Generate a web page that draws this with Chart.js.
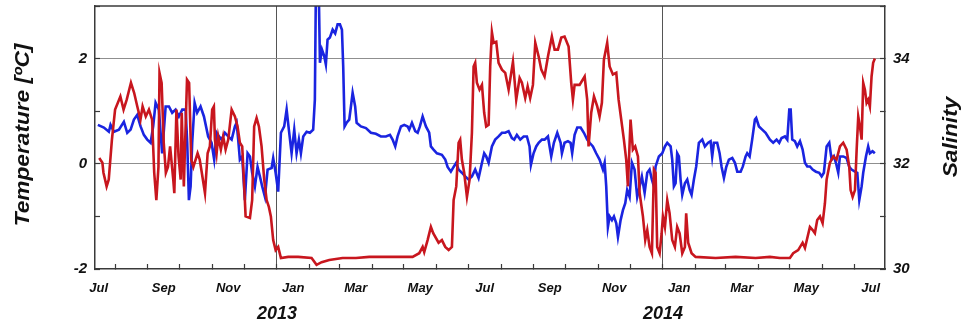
<!DOCTYPE html>
<html>
<head>
<meta charset="utf-8">
<title>Temperature and salinity 2012-2014</title>
<script src="https://cdn.jsdelivr.net/npm/chart.js@4"></script>
<style>
  html, body { margin: 0; padding: 0; background: #ffffff; }
  canvas { display: block; }
</style>
</head>
<body>
<canvas id="chart" width="965" height="326"></canvas>
<script>
// Days are counted from 1 January 2013 (negative = 2012).
const tempDays = [
  -168, -165, -164, -161, -159, -156, -153, -148, -145, -142, -138, -135, -132, -129, -127, -124,
  -121, -118, -116, -114, -112, -111, -109, -107, -105, -103, -101, -98, -97, -95, -93, -91,
  -90, -88, -85, -83, -81, -79, -75, -73, -71, -68, -65.5, -63.4, -61.2, -59.6,
  -58.6, -57, -55.5, -53, -50.8, -48.5, -46, -42.8, -39.7, -37.2, -35, -32.8, -30.9, -29.6, -25.5, -23.4,
  -21.5, -19.2, -17, -14.5, -12, -9.7, -7.6, -5.7, -3.5, -1.2, 1.2, 3.8, 10.7, 20.1, 32.8, 37.5,
  42.3, 49.5, 62.1, 74.7, 87.3, 99.9, 112.5, 128.3, 134.6, 137.8, 139.3, 142.5, 145.6, 147.8, 152.9, 156,
  159.2, 162.4, 165.5, 167.1, 169.6, 171.8, 173.3, 174.9, 177.1, 179.7, 182.2, 184.4, 186, 187.5, 189.1, 191.6,
  193.9, 196, 197.9, 200.2, 201.7, 203.3, 204.9, 207.4, 209.6, 212.8, 215.9, 219.1, 223.2, 226.3, 229.5, 231.7,
  234.8, 237.1, 239.5, 242.1, 244.3, 247.5, 250, 253.1, 256.3, 260, 262.6, 265.7, 268.9, 272, 275.8, 278.3,
  279.9, 281.5, 286.2, 291, 293.4, 294.7, 297.2, 299.8, 302.9, 305.1, 307.3, 309.2, 312.3, 314.6, 317.7, 320.9,
  323.1, 325.6, 328.1, 330.3, 331.9, 334.4, 336.6, 338.8, 341.4, 343, 346.1, 348.3, 350.2, 352.4, 354.6, 356.5,
  358.1, 359.6, 361.9, 363.8, 365, 366.9, 369.1, 371.3, 373.8, 376.3, 378.5, 380.8, 383.3, 385.8, 387, 388.9,
  392.1, 395.9, 414.8, 433.7, 452.7, 466.2, 475.6, 485.1, 488.2, 492.9, 497.1, 499.3, 504, 506.6, 508.7, 510.9,
  513.5, 516, 518.2, 519.8, 522.9, 526.1, 529.2, 532.4, 535.5, 538.7, 541.2, 542.5, 544.4, 546.6, 548.2, 549.7,
  551.3, 552.9, 554.4, 556, 557.6, 559.1, 560.7, 562.3, 563.8, 565.4
];
const tempC = [
  0.11, 0.02, -0.17, -0.43, -0.30, 0.46, 1.03, 1.28, 1.03, 1.22, 1.54, 1.35, 1.09, 0.84, 1.09, 0.90,
  1.03, 0.84, -0.17, -0.69, -0.06, 1.73, 1.54, 0.40, -0.17, -0.06, 0.33, -0.30, -0.56, 1.03, 0.14, -0.30,
  0.97, -0.43, 1.60, 1.54, 0.08, -0.06, 0.20, 0.08, -0.17, -0.56, 0.20, 0.33, 1.03, 1.09,
  0.46, 0.20, 0.52, 0.27, 0.52, 0.27, 0.46, 1.03, 0.90, 0.71, 0.40, 0.33, -0.43, -1.00, -1.03, -0.69,
  0.71, 0.87, 0.71, 0.33, -0.30, -0.69, -0.82, -1.00, -1.45, -1.64, -1.58, -1.79, -1.77, -1.77, -1.79, -1.92,
  -1.87, -1.83, -1.79, -1.79, -1.77, -1.77, -1.77, -1.77, -1.70, -1.58, -1.68, -1.45, -1.20, -1.32, -1.50, -1.45,
  -1.58, -1.64, -1.58, -0.69, -0.43, 0.40, 0.46, 0.08, -0.17, -0.63, -0.30, 0.59, 1.85, 1.92, 1.54, 1.41,
  1.50, 0.97, 0.71, 0.74, 1.85, 2.50, 2.30, 2.32, 1.92, 1.79, 1.73, 1.41, 1.94, 1.22, 1.63, 1.54,
  1.25, 1.47, 1.25, 1.50, 2.30, 2.04, 1.79, 1.66, 2.04, 2.42, 2.17, 2.17, 2.40, 2.42, 2.23, 1.54,
  1.22, 1.50, 1.50, 1.66, 1.22, 0.33, 0.97, 1.28, 1.09, 0.90, 1.16, 1.98, 2.30, 1.85, 1.70, 1.73,
  1.22, 0.84, 0.46, 0.08, -0.43, 0.84, 0.27, 0.33, 0.14, -0.56, -1.00, -1.45, -1.26, -1.58, -1.70, -0.11,
  -0.17, -1.58, -1.70, -1.32, -1.00, -1.20, -0.69, -0.94, -1.45, -1.58, -1.20, -1.32, -1.70, -1.58, -0.94, -1.50,
  -1.70, -1.77, -1.79, -1.77, -1.79, -1.77, -1.79, -1.79, -1.70, -1.64, -1.50, -1.60, -1.20, -1.26, -1.32, -1.07,
  -1.00, -1.13, -0.75, -0.30, 0.02, 0.14, 0.08, 0.33, 0.40, 0.27, -0.06, -0.50, -0.63, -0.50, 0.27, 0.90,
  0.71, 0.46, 1.54, 1.41, 1.16, 1.22, 1.09, 1.66, 1.92, 2.00
];

const salDays = [
  -169.3, -163.6, -158.9, -157.3, -154.1, -149.4, -144.7, -141.5, -138.3, -135.2, -132.1, -128.9, -125.8, -122.6, -119.4, -117,
  -114.7, -111.6, -108.5, -105.2, -102.1, -99, -95.8, -92.7, -89.5, -86.3, -84.8, -83.2, -81.6, -80.1, -77.8, -75.4,
  -72.2, -69, -65, -61.8, -59.3, -57, -54.8, -52.3, -49.2, -46, -42.8, -39.7, -38.1, -36.6, -35, -32.8,
  -30.3, -27.7, -25.5, -23.4, -20.8, -18.3, -16.1, -13.9, -11.3, -8.8, -5, -3.5, -1.2, 1.2, 3.8, 6.9,
  9.2, 11.3, 13.9, 16.4, 18.6, 20.8, 22.7, 24.9, 28.1, 31.2, 34.3, 35.9, 36.9, 39.5, 40.7, 42.6,
  44.7, 46.3, 47.9, 50.1, 52.7, 55.1, 57.4, 59.6, 61.5, 62.7, 64, 65.9, 68.4, 70, 71.6, 74,
  75.4, 79.4, 84.2, 88.9, 93.6, 98.3, 103.1, 106.9, 109.4, 111.9, 114.1, 117.3, 120.4, 123.6, 125.1, 127.7,
  130.8, 133.1, 135.2, 137.8, 140.9, 144, 145.6, 148.1, 151.3, 156, 159.2, 161.4, 164.5, 167.1, 169.6, 171.8,
  174.9, 178.1, 181.2, 184.4, 187.5, 190.7, 193.9, 196, 197.9, 200.2, 203.3, 206.4, 209.6, 212.8, 215.9, 219.1,
  222.2, 224.4, 226.9, 230.1, 233.3, 236.4, 238.9, 240.2, 242.7, 245.2, 247.5, 250.6, 253.1, 256.3, 259.4, 261.9,
  265.1, 268.3, 269.5, 272, 275.2, 277.7, 279.2, 281.5, 284, 287.2, 290.3, 293.4, 295.7, 298.8, 301.9, 305.1,
  308.3, 309.9, 311.4, 313, 314.6, 316.8, 318.7, 320.9, 322.5, 325, 327.2, 329.4, 331.2, 333.5, 335.7, 338.2,
  340.7, 343, 345.1, 347.7, 350.2, 352.4, 354.6, 356.5, 358.1, 361.2, 364.4, 366.9, 369.1, 372.3, 373.8, 375.4,
  377, 378.5, 380.1, 381.7, 383.3, 385.8, 388, 390.3, 392.1, 394.3, 396.5, 399, 402.2, 404.7, 407.8, 410.1,
  411.6, 413.2, 416.3, 418.6, 420.5, 422.7, 424.9, 427.4, 430.6, 433.1, 435.3, 438.5, 440.6, 443.2, 444.7, 447,
  449.4, 452, 453.2, 455.8, 458.9, 462.1, 466.2, 469.3, 472.5, 475, 477.2, 480.4, 482.6, 484.5, 485.8, 487.3,
  489.8, 492, 494.6, 497.1, 499.3, 501.5, 504, 506.6, 509.7, 512.8, 515.1, 517.2, 519.8, 522.3, 524.5, 526.7,
  528.6, 530.8, 532.4, 535.5, 538.7, 541.2, 543.4, 546.6, 548.8, 550.7, 552.9, 554.4, 557, 559.1, 560.7, 563.2,
  565.4
];
const salinity = [
  32.74, 32.69, 32.61, 32.74, 32.61, 32.65, 32.80, 32.59, 32.65, 32.84, 32.93, 32.71, 32.55, 32.46, 32.40, 32.71,
  33.16, 33.03, 32.20, 33.09, 33.09, 32.97, 33.03, 32.90, 33.03, 33.03, 32.40, 31.31, 31.57, 32.40, 33.16, 32.97,
  33.09, 32.90, 32.52, 32.40, 32.08, 32.59, 32.52, 32.46, 32.59, 32.52, 32.46, 32.71, 32.78, 32.46, 32.08, 32.14,
  31.31, 32.20, 32.14, 31.83, 31.57, 31.94, 31.76, 31.57, 31.37, 31.89, 31.92, 32.11, 31.83, 31.47, 32.59, 32.71,
  33.03, 32.65, 32.20, 32.65, 32.20, 32.46, 32.20, 32.52, 32.61, 32.59, 32.65, 33.22, 35.40, 35.40, 33.92, 34.17,
  34.05, 33.89, 34.36, 34.40, 34.55, 34.48, 34.65, 34.65, 34.55, 33.85, 32.71, 32.78, 32.84, 33.09, 33.35, 33.09,
  32.78, 32.71, 32.68, 32.59, 32.57, 32.52, 32.52, 32.55, 32.46, 32.33, 32.52, 32.71, 32.74, 32.71, 32.65, 32.78,
  32.62, 32.59, 32.71, 32.90, 32.71, 32.59, 32.33, 32.27, 32.20, 32.17, 32.08, 31.94, 31.85, 31.94, 32.02, 31.89,
  31.83, 31.76, 31.70, 31.76, 31.89, 31.73, 32.02, 32.20, 32.14, 32.02, 32.33, 32.46, 32.52, 32.59, 32.59, 32.62,
  32.49, 32.46, 32.55, 32.46, 32.52, 32.52, 32.33, 31.98, 32.20, 32.33, 32.40, 32.46, 32.46, 32.52, 32.14, 32.40,
  32.59, 32.40, 32.20, 32.40, 32.43, 32.40, 32.20, 32.55, 32.69, 32.69, 32.59, 32.46, 32.40, 32.33, 32.20, 32.08,
  31.89, 32.02, 31.57, 30.80, 31.00, 30.93, 31.00, 30.87, 30.61, 30.93, 31.12, 31.25, 31.50, 31.37, 32.02, 31.89,
  31.37, 31.57, 31.76, 31.45, 31.83, 31.89, 31.70, 31.57, 31.95, 32.14, 32.20, 32.33, 32.40, 32.33, 32.08, 31.57,
  31.63, 32.20, 32.14, 31.70, 31.41, 31.63, 31.70, 31.50, 31.41, 31.70, 31.95, 32.40, 32.46, 32.33, 32.40, 32.43,
  32.14, 32.40, 32.40, 32.20, 31.94, 31.73, 31.94, 32.08, 32.11, 32.02, 31.85, 31.85, 31.95, 32.14, 32.20, 32.14,
  32.46, 32.84, 32.87, 32.71, 32.65, 32.59, 32.46, 32.40, 32.46, 32.40, 32.49, 32.52, 32.46, 33.03, 33.03, 32.46,
  32.43, 32.33, 32.43, 32.27, 32.02, 31.95, 31.95, 31.89, 31.85, 31.83, 31.76, 31.83, 32.33, 32.40, 32.08, 32.14,
  32.02, 31.83, 32.14, 32.14, 32.11, 31.94, 31.89, 31.85, 31.83, 31.31, 31.57, 31.83, 32.14, 32.33, 32.20, 32.24,
  32.20
];

// Axis labelling
const monthNames = ['Jan', 'Feb', 'Mar', 'Apr', 'May', 'Jun', 'Jul', 'Aug', 'Sep', 'Oct', 'Nov', 'Dec'];
const labelledMonths = [6, 8, 10, 0, 2, 4];          // Jul, Sep, Nov, Jan, Mar, May
const yearLabels = ['2013', '2014'];
const tempTitle = 'Temperature [\u00BAC]';
const salTitle = 'Salinity';

const DAY0 = Date.UTC(2013, 0, 1);
const dayOf = (y, m) => Math.round((Date.UTC(y, m, 1) - DAY0) / 86400000);
const X_MIN = -172, X_MAX = 575;

// Month boundaries and month centres within the plotted span
const monthStarts = [];
const monthMids = new Map();
for (let y = 2012; y <= 2014; y++) {
  for (let m = 0; m < 12; m++) {
    const a = dayOf(y, m), b = dayOf(y, m + 1);
    if (a >= X_MIN && a <= X_MAX) monthStarts.push(a);
    const mid = (a + b) / 2;
    if (labelledMonths.includes(m) && mid >= X_MIN && mid <= X_MAX) monthMids.set(mid, monthNames[m]);
  }
}
const startSet = new Set(monthStarts);
const yearStarts = [dayOf(2013, 0), dayOf(2014, 0)];

const tickFont = { family: '"Liberation Sans", Arial, sans-serif', style: 'italic', weight: 'bold', size: 15 };
const monthFont = { family: '"Liberation Sans", Arial, sans-serif', style: 'italic', weight: 'bold', size: 13 };
const FRAME = '#3a3a3a';
const GRID = '#8f8f8f';
const clear = 'rgba(0,0,0,0)';

// Fixed axis boxes: no extra room reserved for half-labels at the ends
function fixBox(size, horizontal) {
  return scale => {
    if (horizontal) scale.height = size; else scale.width = size;
    scale.paddingTop = 0;
    scale.paddingBottom = 0;
    scale.paddingLeft = 0;
    scale.paddingRight = 0;
  };
}

const textPlugin = {
  id: 'frameAndTitles',
  afterDraw(chart) {
    const { ctx, chartArea: a, scales } = chart;
    ctx.save();
    // top edge of the frame
    ctx.strokeStyle = FRAME;
    ctx.lineWidth = 1.5;
    ctx.beginPath();
    ctx.moveTo(a.left, a.top);
    ctx.lineTo(a.right, a.top);
    ctx.stroke();

    ctx.fillStyle = '#111';
    ctx.textAlign = 'center';
    ctx.textBaseline = 'middle';
    ctx.font = 'italic bold 21px "Liberation Sans", Arial, sans-serif';
    ctx.save();
    ctx.translate(23, 135);
    ctx.rotate(-Math.PI / 2);
    ctx.scale(1.08, 1);
    ctx.fillText(tempTitle, 0, 0);
    ctx.restore();
    ctx.save();
    ctx.translate(951, 137);
    ctx.rotate(-Math.PI / 2);
    ctx.scale(1.08, 1);
    ctx.fillText(salTitle, 0, 0);
    ctx.restore();

    ctx.font = 'italic bold 18px "Liberation Sans", Arial, sans-serif';
    yearLabels.forEach((t, i) => {
      ctx.fillText(t, scales.x.getPixelForValue(yearStarts[i]), 314);
    });
    ctx.restore();
  }
};

new Chart(document.getElementById('chart'), {
  type: 'line',
  data: {
    datasets: [
      {
        label: 'Temperature',
        data: tempDays.map((d, i) => ({ x: d, y: tempC[i] })),
        yAxisID: 'y',
        borderColor: '#c8161e',
        borderWidth: 2.6,
        pointRadius: 0,
        tension: 0,
        fill: false
      },
      {
        label: 'Salinity',
        data: salDays.map((d, i) => ({ x: d, y: salinity[i] })),
        yAxisID: 'y2',
        borderColor: '#1a24e0',
        borderWidth: 2.6,
        pointRadius: 0,
        tension: 0,
        fill: false
      }
    ]
  },
  options: {
    responsive: false,
    animation: false,
    events: [],
    layout: { padding: { top: 6, left: 0, right: 0, bottom: 0 } },
    plugins: { legend: { display: false }, tooltip: { enabled: false } },
    scales: {
      x: {
        type: 'linear',
        min: X_MIN,
        max: X_MAX,
        afterBuildTicks(scale) {
          scale.ticks = monthStarts.map(v => ({ value: v }))
            .concat([...monthMids.keys()].map(v => ({ value: v })));
        },
        afterFit: fixBox(57, true),
        ticks: {
          autoSkip: false,
          maxRotation: 0,
          minRotation: 0,
          padding: 17,
          color: '#111',
          font: monthFont,
          callback: v => monthMids.get(v) || ''
        },
        grid: {
          drawOnChartArea: true,
          tickLength: -5,
          lineWidth: 1,
          color: c => (c.tick && yearStarts.includes(c.tick.value)) ? '#555' : clear,
          tickColor: c => (c.tick && startSet.has(c.tick.value)) ? FRAME : clear,
          tickWidth: 1.2
        },
        border: { display: true, color: FRAME, width: 1.5 }
      },
      y: {
        position: 'left',
        min: -2,
        max: 3,
        afterFit: fixBox(95, false),
        ticks: {
          stepSize: 1,
          padding: 13,
          color: '#111',
          font: tickFont,
          callback: v => (v % 2 === 0 ? String(v) : '')
        },
        grid: {
          tickLength: -5,
          lineWidth: 1,
          color: c => (c.tick && (c.tick.value === 0 || c.tick.value === 2)) ? GRID : clear,
          tickColor: FRAME,
          tickWidth: 1.2
        },
        border: { display: true, color: FRAME, width: 1.5 }
      },
      y2: {
        position: 'right',
        min: 30,
        max: 35,
        afterFit: fixBox(80, false),
        ticks: {
          stepSize: 1,
          padding: 13,
          color: '#111',
          font: tickFont,
          callback: v => (v % 2 === 0 ? String(v) : '')
        },
        grid: {
          drawOnChartArea: false,
          tickLength: -5,
          tickColor: FRAME,
          tickWidth: 1.2
        },
        border: { display: true, color: FRAME, width: 1.5 }
      }
    }
  },
  plugins: [textPlugin]
});
</script>
</body>
</html>
